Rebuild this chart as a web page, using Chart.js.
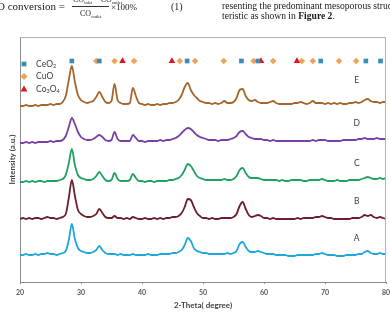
<!DOCTYPE html>
<html>
<head>
<meta charset="utf-8">
<script src="https://cdn.jsdelivr.net/npm/chart.js@4.4.1/dist/chart.umd.min.js"></script>
<style>
html, body { margin: 0; padding: 0; width: 390px; height: 312px; overflow: hidden; background: #fff; }
#wrap { position: relative; width: 390px; height: 312px; overflow: hidden; }
canvas { position: absolute; left: 0; top: 0; }
.t { position: absolute; font-family: "Liberation Serif", serif; font-size: 10px; line-height: 10px; white-space: nowrap; color: #1a1a1a; }
.t sub { font-size: 4.5px; vertical-align: -2px; line-height: 0; }
.f { font-size: 8px; }
.bar { position: absolute; left: 72px; top: 6px; width: 37px; height: 0; border-top: 1px solid #333; }
</style>
</head>
<body>
<div id="wrap">
<canvas id="xrd" width="390" height="312"></canvas>
<div class="t" style="left:-3px; top:1px; font-size:11px;">O conversion =</div>
<div class="t f" style="left:73px; top:-5px;">CO<sub>inlet</sub> &minus; CO<sub>outlet</sub></div>
<div class="bar"></div>
<div class="t f" style="left:80px; top:9px;">CO<sub>outlet</sub></div>
<div class="t" style="left:111px; top:1.5px; font-size:9px;">&times;100%</div>
<div class="t" style="left:171px; top:1.5px;">(1)</div>
<div class="t" style="left:222px; top:0.5px; font-size:9.6px;">resenting the predominant mesoporous structure charac</div>
<div class="t" style="left:222px; top:10.5px; font-size:9.6px;">teristic as shown in <b>Figure 2</b>.</div>
</div>
<script>
// 2-theta grid (degrees)
var twoTheta = [20,20.5,21,21.5,22,22.5,23,23.5,24,24.5,
  25,25.5,26,26.5,27,27.5,28,28.5,29,29.5,
  30,30.5,31,31.5,32,32.5,33,33.5,34,34.5,
  35,35.5,36,36.5,37,37.5,38,38.5,39,39.5,
  40,40.5,41,41.5,42,42.5,43,43.5,44,44.5,
  45,45.5,46,46.5,47,47.5,48,48.5,49,49.5,
  50,50.5,51,51.5,52,52.5,53,53.5,54,54.5,
  55,55.5,56,56.5,57,57.5,58,58.5,59,59.5,
  60,60.5,61,61.5,62,62.5,63,63.5,64,64.5,
  65,65.5,66,66.5,67,67.5,68,68.5,69,69.5,
  70,70.5,71,71.5,72,72.5,73,73.5,74,74.5,
  75,75.5,76,76.5,77,77.5,78,78.5,79,79.5,
  80];

// intensities (a.u., curves offset as in the figure)
var sampleA = [27,27,28,27,27,28,27,28,28,29,
  28,28,27,28,29,31,42,58,43,34,
  31,30,29,29,30,32,36,32,29,28,
  28,28,27,28,27,27,27,28,27,27,
  27,27,28,27,27,27,28,28,28,28,
  29,29,30,32,37,44,41,34,31,30,
  29,29,28,28,28,28,28,28,29,28,
  29,31,38,40,35,31,30,30,31,30,
  29,28,28,28,27,27,27,27,26,26,
  26,27,27,27,27,27,27,28,28,29,
  28,27,27,27,26,26,26,27,27,27,
  27,28,28,30,31,29,28,28,29,28,
  28];
var sampleB = [63,64,63,64,63,64,64,63,64,65,
  64,64,63,64,65,68,84,102,86,72,
  68,66,65,65,66,68,73,69,65,64,
  64,66,64,64,63,64,63,65,64,63,
  63,64,63,63,64,63,64,63,64,64,
  65,65,66,69,75,83,82,75,69,66,
  64,64,63,64,63,63,64,64,64,64,
  65,68,76,80,73,67,65,66,67,66,
  64,64,63,64,63,63,63,63,63,63,
  63,64,63,64,64,64,64,65,65,66,
  65,64,64,63,63,63,63,63,63,64,
  64,64,65,67,66,67,65,64,65,64,
  63];
var sampleC = [100,100,101,100,101,100,101,101,100,101,
  101,101,101,102,103,107,119,133,117,107,
  104,103,102,102,103,106,110,106,102,101,
  102,109,103,101,101,101,102,108,104,101,
  101,100,101,101,100,101,101,101,101,102,
  102,103,104,107,112,118,116,111,106,104,
  103,102,102,102,102,102,102,103,102,102,
  103,106,112,114,109,105,104,104,104,103,
  102,102,102,102,102,101,102,101,101,102,
  102,102,102,101,101,102,102,102,102,103,
  102,101,101,101,102,101,101,101,102,102,
  102,102,103,104,105,104,103,103,104,103,
  104];
var sampleD = [139,139,140,139,140,139,140,140,140,140,
  141,140,141,141,142,146,155,164,158,150,
  145,143,142,142,143,145,147,145,142,141,
  142,150,143,141,141,141,141,147,144,141,
  141,140,141,141,141,141,142,141,142,142,
  143,144,146,149,152,154,153,150,147,145,
  144,143,142,142,142,141,142,142,142,143,
  144,146,150,151,148,145,144,143,143,143,
  142,142,141,142,141,141,141,141,141,141,
  141,141,141,141,141,141,142,141,142,142,
  142,141,141,141,141,141,142,142,142,142,
  142,143,143,144,143,143,143,144,143,143,
  143];
var sampleE = [176,176,177,176,176,177,176,177,177,177,
  178,177,178,178,180,186,202,216,200,187,
  182,180,179,180,181,185,190,185,180,179,
  181,198,182,179,178,178,179,194,186,179,
  178,177,178,177,177,178,177,178,178,179,
  179,180,182,187,195,199,192,187,184,181,
  180,179,179,178,179,178,179,181,179,179,
  180,184,192,193,186,182,181,182,180,179,
  179,179,180,181,179,178,178,178,178,178,
  179,179,180,179,178,179,181,179,179,179,
  178,179,178,179,178,179,178,178,179,179,
  180,179,180,182,183,181,180,180,179,180,
  180];

var sampleNames = ['A', 'B', 'C', 'D', 'E'];
var sampleColors = ['#1ea7dc', '#6b1f2c', '#20a162', '#7a3fa6', '#a6652b'];

// reference peak positions (2-theta) shown as symbols
var ceo2Peaks = [28.5, 33.0, 47.4, 56.3, 59.0, 69.3, 76.7, 79.1];
var cuoPeaks = [32.5, 35.5, 38.7, 46.2, 48.7, 53.4, 58.3, 61.5, 66.2, 68.0, 72.3, 75.1];
var co3o4Peaks = [36.8, 44.9, 59.5, 65.4];
var markerRow = 221;

var phaseNames = ['CeO2', 'CuO', 'Co3O4'];
var phaseColors = ['#3a8db6', '#f0a257', '#e0141e'];
var phaseStyles = ['rect', 'rectRot', 'triangle'];

var labelAt = { x: 75.2, y: [44, 81, 119, 159, 202] };

function pairs(ys) {
  return twoTheta.map(function (t, i) { return { x: t, y: ys[i] }; });
}
function row(xs) {
  return xs.map(function (t) { return { x: t, y: markerRow }; });
}

var series = [sampleA, sampleB, sampleC, sampleD, sampleE];
var datasets = [];
series.forEach(function (s, i) {
  datasets.push({
    label: sampleNames[i],
    data: pairs(s),
    borderColor: sampleColors[i],
    borderWidth: 1.8,
    pointRadius: 0,
    cubicInterpolationMode: 'monotone',
    fill: false
  });
});
[ceo2Peaks, cuoPeaks, co3o4Peaks].forEach(function (p, i) {
  datasets.push({
    label: phaseNames[i],
    data: row(p),
    showLine: false,
    pointStyle: phaseStyles[i],
    pointRadius: i === 2 ? 3.8 : 3.3,
    pointBackgroundColor: phaseColors[i],
    pointBorderWidth: 0
  });
});

var textFont = 'Lato, "Open Sans", sans-serif';

function drawChem(ctx, text, x, y) {
  var cx = x;
  for (var k = 0; k < text.length; k++) {
    var ch = text[k];
    var sub = /[0-9]/.test(ch);
    ctx.font = (sub ? '5.5px ' : '8.5px ') + textFont;
    ctx.fillText(ch, cx, sub ? y + 2.5 : y);
    cx += ctx.measureText(ch).width;
  }
}

function drawSymbol(ctx, style, x, y, r) {
  ctx.beginPath();
  if (style === 'rect') {
    ctx.rect(x - r * 0.75, y - r * 0.75, r * 1.5, r * 1.5);
  } else if (style === 'rectRot') {
    ctx.moveTo(x, y - r); ctx.lineTo(x + r, y); ctx.lineTo(x, y + r); ctx.lineTo(x - r, y);
  } else {
    ctx.moveTo(x, y - r); ctx.lineTo(x + r * 0.95, y + r * 0.7); ctx.lineTo(x - r * 0.95, y + r * 0.7);
  }
  ctx.closePath();
  ctx.fill();
}

var annotations = {
  id: 'annotations',
  afterDatasetsDraw: function (chart) {
    var ctx = chart.ctx, ca = chart.chartArea;
    var xs = chart.scales.x, ys = chart.scales.y;
    ctx.save();
    // frame top and right
    ctx.strokeStyle = '#b0b0b0';
    ctx.lineWidth = 1;
    ctx.beginPath();
    ctx.moveTo(ca.left, ca.top + 0.5);
    ctx.lineTo(ca.right - 0.5, ca.top + 0.5);
    ctx.lineTo(ca.right - 0.5, ca.bottom);
    ctx.stroke();
    // phase legend
    ctx.textBaseline = 'middle';
    ctx.textAlign = 'left';
    phaseNames.forEach(function (n, i) {
      var y = ca.top + 27 + i * 12.5;
      ctx.fillStyle = phaseColors[i];
      drawSymbol(ctx, phaseStyles[i], ca.left + 4, y, i === 0 ? 3.2 : 3.6);
      ctx.fillStyle = '#404040';
      drawChem(ctx, n, ca.left + 16, y);
    });
    // curve letters
    ctx.font = '8.5px ' + textFont;
    ctx.textAlign = 'center';
    ctx.fillStyle = '#404040';
    sampleNames.forEach(function (n, i) {
      ctx.fillText(n, xs.getPixelForValue(labelAt.x), ys.getPixelForValue(labelAt.y[i]));
    });
    ctx.restore();
  }
};

new Chart(document.getElementById('xrd').getContext('2d'), {
  type: 'line',
  data: { datasets: datasets },
  options: {
    responsive: false,
    animation: false,
    devicePixelRatio: 1,
    layout: { padding: { top: 37, right: 4, left: 4, bottom: 0 } },
    plugins: { legend: { display: false }, tooltip: { enabled: false } },
    scales: {
      x: {
        type: 'linear',
        min: 20,
        max: 80,
        ticks: { stepSize: 10, padding: 5, color: '#595959', font: { family: textFont, size: 7, weight: 'bold' } },
        grid: { display: true, drawOnChartArea: false, drawTicks: true, tickLength: 2, color: '#8c8c8c' },
        border: { color: '#8c8c8c' },
        title: { display: true, text: '2-Theta( degree)', color: '#404040', padding: { top: 2, bottom: 2 }, font: { family: textFont, size: 8, weight: 'bold' } },
        afterFit: function (s) { s.height = 30; s.paddingLeft = 0; s.paddingRight = 0; }
      },
      y: {
        min: 0,
        max: 245,
        ticks: { display: false },
        grid: { display: false },
        border: { color: '#8c8c8c' },
        title: { display: true, text: 'Intensity (a.u.)', color: '#404040', padding: { top: 4, bottom: 2 }, font: { family: textFont, size: 8, weight: 'bold' } },
        afterFit: function (s) { s.width = 16; }
      }
    }
  },
  plugins: [annotations]
});
</script>
</body>
</html>
